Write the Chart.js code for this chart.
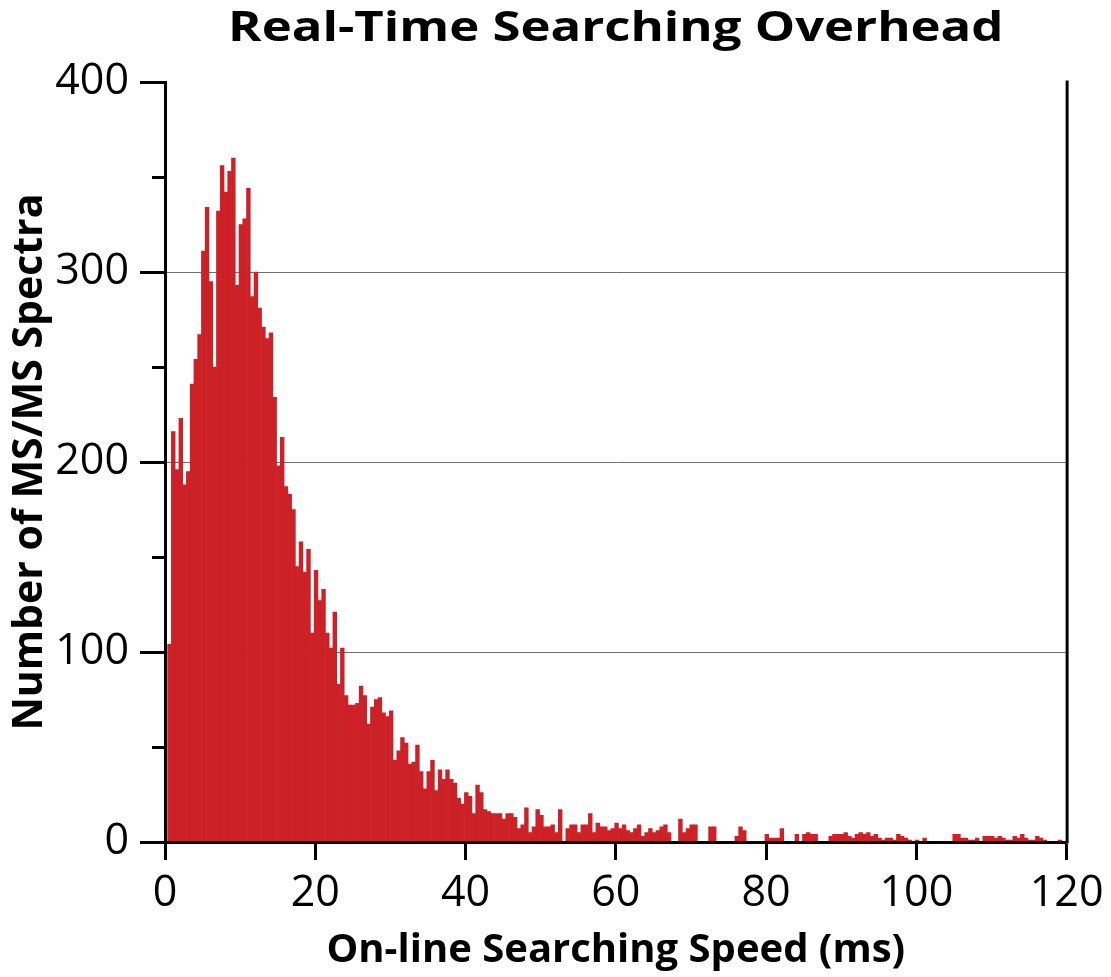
<!DOCTYPE html>
<html>
<head>
<meta charset="utf-8">
<script src="https://cdn.jsdelivr.net/npm/chart.js@4/dist/chart.umd.min.js"></script>
<style>
  html, body { margin: 0; padding: 0; background: #fff; }
  #wrap { width: 1111px; height: 977px; }
</style>
</head>
<body>
<div id="wrap"><canvas id="chart" width="1111" height="977"></canvas></div>
<script>
// Texts
const chartTitle = 'Real-Time Searching Overhead';
const xAxisTitle = 'On-line Searching Speed (ms)';
const yAxisTitle = 'Number of MS/MS Spectra';

// Histogram bins (ms)
const binStartMs = 0.35;
const binWidthMs = 0.5;

// Spectra per bin
const spectraCounts = [
  104, 216, 196, 223, 188, 195, 241, 254, 267, 311,
  334, 295, 250, 332, 356, 342, 353, 360, 293, 325,
  328, 344, 287, 300, 281, 271, 265, 268, 234, 198,
  213, 187, 183, 175, 145, 158, 142, 154, 110, 143,
  127, 133, 110, 102, 121, 83, 102, 77, 72, 72,
  73, 82, 77, 62, 71, 75, 76, 68, 66, 69,
  43, 48, 55, 52, 41, 42, 51, 37, 28, 37,
  43, 27, 38, 33, 38, 33, 31, 23, 20, 26,
  24, 15, 30, 26, 17, 16, 15, 15, 15, 12,
  15, 15, 13, 7, 9, 18, 5, 8, 17, 14,
  8, 8, 9, 5, 17, 0, 7, 9, 9, 5,
  9, 9, 15, 5, 10, 8, 8, 6, 7, 10,
  7, 9, 6, 5, 7, 9, 3, 5, 7, 5,
  6, 8, 9, 5, 0, 0, 12, 5, 7, 9,
  9, 0, 0, 0, 8, 8, 0, 0, 0, 0,
  0, 3, 8, 6, 0, 0, 0, 0, 0, 4,
  2, 2, 2, 7, 0, 0, 0, 4, 0, 4,
  5, 4, 4, 0, 0, 0, 3, 4, 4, 4,
  5, 3, 2, 4, 5, 4, 5, 3, 4, 2,
  1, 2, 2, 1, 4, 3, 2, 1, 0, 1,
  0, 2, 0, 0, 0, 0, 0, 0, 0, 4,
  4, 2, 2, 1, 1, 2, 0, 3, 3, 3,
  2, 3, 2, 1, 1, 3, 2, 4, 2, 1,
  1, 3, 2, 1, 0, 0, 0, 1, 0
];

// Axis ticks
const xTickStep = 20;
const xRange = [0, 120];
const yTickStep = 100;
const yRange = [0, 400];
const yMinorTicks = [50, 150, 250, 350];

// Styling
const FONT = "'Open Sans', 'Noto Sans', sans-serif";
const BAR_COLOR = '#cc2127';
const GRID_COLOR = '#6f6f6f';
const TITLE_STRETCH = 1.24;

const points = spectraCounts.map((count, i) => ({
  x: binStartMs + binWidthMs * (i + 0.5),
  y: count
}));

// Main title, centred over the plot area and widened horizontally
const stretchedTitle = {
  id: 'stretchedTitle',
  afterDraw(chart) {
    const { ctx, chartArea } = chart;
    ctx.save();
    ctx.font = `bold 41px ${FONT}`;
    ctx.fillStyle = '#000';
    ctx.textAlign = 'center';
    ctx.textBaseline = 'alphabetic';
    ctx.translate((chartArea.left + chartArea.right) / 2, 41);
    ctx.scale(TITLE_STRETCH, 1);
    ctx.fillText(chartTitle, 0, 0);
    ctx.restore();
  }
};

// Right-hand frame line and short minor ticks on the y axis
const frameAndMinorTicks = {
  id: 'frameAndMinorTicks',
  afterDraw(chart) {
    const { ctx, chartArea, scales } = chart;
    ctx.save();
    ctx.strokeStyle = '#000';
    ctx.lineWidth = 3;
    ctx.beginPath();
    ctx.moveTo(chartArea.right + 0.5, chartArea.top - 1.5);
    ctx.lineTo(chartArea.right + 0.5, chartArea.bottom + 1.5);
    ctx.stroke();
    ctx.beginPath();
    yMinorTicks.forEach(v => {
      const y = Math.round(scales.y.getPixelForValue(v)) + 0.5;
      ctx.moveTo(chartArea.left - 13, y);
      ctx.lineTo(chartArea.left, y);
    });
    ctx.stroke();
    ctx.restore();
  }
};

new Chart(document.getElementById('chart'), {
  type: 'bar',
  data: {
    datasets: [{
      data: points,
      backgroundColor: BAR_COLOR,
      borderWidth: 0,
      barPercentage: 1,
      categoryPercentage: 1
    }]
  },
  options: {
    responsive: false,
    animation: false,
    devicePixelRatio: 1,
    layout: { padding: { top: 82, right: 40, bottom: 0, left: 0 } },
    plugins: {
      legend: { display: false },
      tooltip: { enabled: false },
      title: { display: false }
    },
    scales: {
      x: {
        type: 'linear',
        min: xRange[0],
        max: xRange[1],
        offset: false,
        afterFit: s => { s.height = 135; },
        ticks: {
          stepSize: xTickStep,
          color: '#000',
          padding: 7.5,
          maxRotation: 0,
          font: { family: FONT, size: 43 }
        },
        grid: {
          offset: false,
          drawOnChartArea: false,
          drawTicks: true,
          tickLength: 18,
          tickWidth: 3,
          tickColor: '#000'
        },
        border: { display: true, color: '#000', width: 3, z: 1 },
        title: {
          display: true,
          text: xAxisTitle,
          color: '#000',
          font: { family: FONT, size: 40, weight: 'bold' },
          padding: { top: 0, bottom: 2.8 }
        }
      },
      y: {
        min: yRange[0],
        max: yRange[1],
        afterFit: s => { s.width = 165; },
        ticks: {
          stepSize: yTickStep,
          color: '#000',
          padding: 11,
          font: { family: FONT, size: 43 }
        },
        grid: {
          color: ctx => (ctx.tick && (ctx.tick.value === yRange[0] || ctx.tick.value === yRange[1])) ? 'rgba(0,0,0,0)' : GRID_COLOR,
          lineWidth: 1,
          drawTicks: true,
          tickLength: 25,
          tickWidth: 3,
          tickColor: '#000'
        },
        border: { display: true, color: '#000', width: 3, z: 1 },
        title: {
          display: true,
          text: yAxisTitle,
          color: '#000',
          font: { family: FONT, size: 41, weight: 'bold' },
          padding: { top: 5.5, bottom: 0 }
        }
      }
    }
  },
  plugins: [stretchedTitle, frameAndMinorTicks]
});
</script>
</body>
</html>
